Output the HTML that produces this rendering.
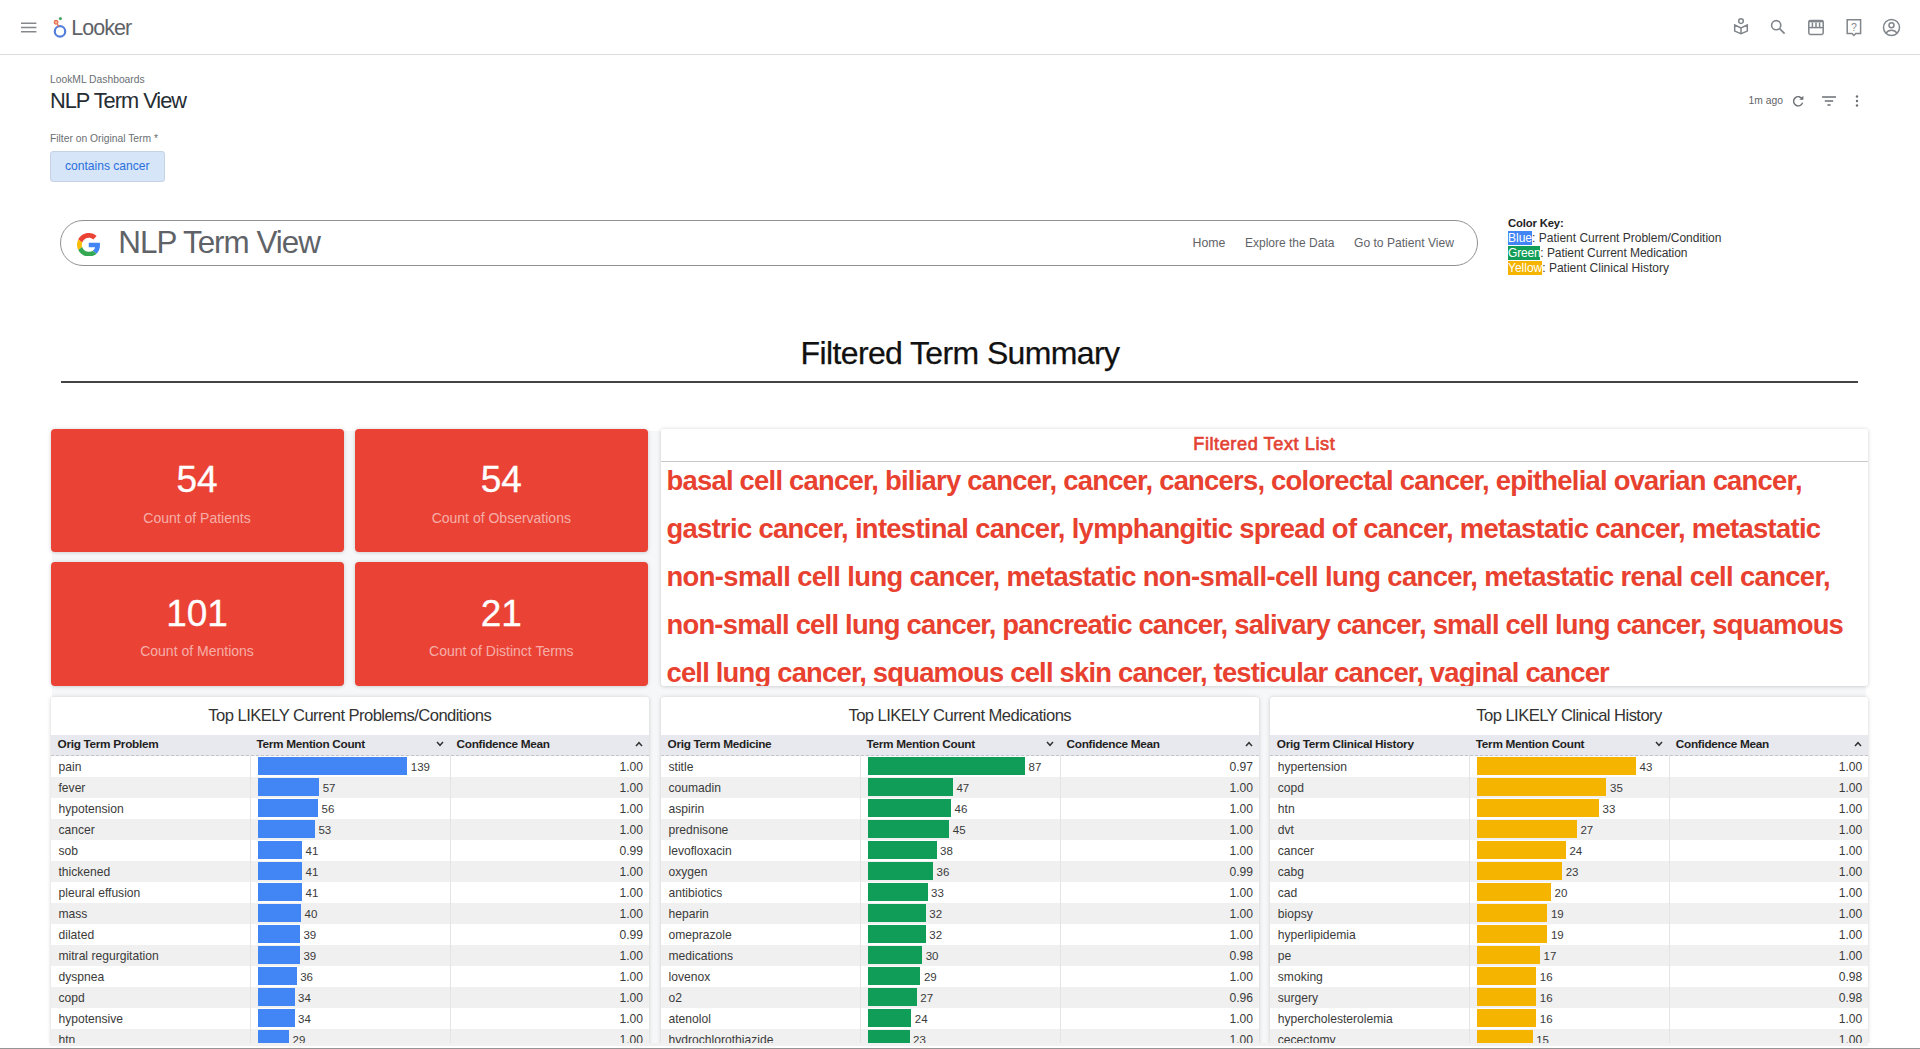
<!DOCTYPE html>
<html><head><meta charset="utf-8"><title>NLP Term View</title>
<style>
*{box-sizing:border-box;margin:0;padding:0}
html,body{width:1920px;height:1049px;overflow:hidden;background:#fff}
body{position:relative;font-family:"Liberation Sans",sans-serif;color:#333}
.abs{position:absolute;white-space:nowrap}
#hdr{position:absolute;left:0;top:0;width:1920px;height:55px;border-bottom:1px solid #dadce0;background:#fff}
.panel{position:absolute;background:#fff;border-radius:3px;box-shadow:0 0 4px rgba(60,64,67,.16),0 1px 3px rgba(60,64,67,.10)}
.tile{position:absolute;background:#ea4335;border-radius:4px;box-shadow:0 0 4px rgba(60,64,67,.16),0 1px 3px rgba(60,64,67,.10);color:#fff;text-align:center}
.tile .num{position:absolute;left:0;right:0;top:31.3px;font-size:37px;line-height:40px;-webkit-text-stroke:.3px #fff}
.tile .lbl{position:absolute;left:0;right:0;top:80px;font-size:14px;line-height:18px;color:rgba(255,255,255,.58)}
.tbl{top:697px;width:598.5px;height:360px;overflow:hidden}
.ttl{position:absolute;left:0;right:0;top:9px;text-align:center;font-size:16.6px;letter-spacing:-.55px;line-height:20px;color:#333}
.thead{position:absolute;left:0;right:0;top:37.5px;height:21px;background:#e8e9ee;border-bottom:1px dashed #c4c4c8}
.th{position:absolute;top:-1px;height:20px;line-height:20px;font-size:11.8px;letter-spacing:-.3px;font-weight:bold;color:#1f1f1f;padding-left:7px}
.c1{left:0;width:199px}.c2{left:199px;width:200px}.c3{left:399px;width:199.5px}
.chev{position:absolute;right:6px;top:7px;width:8px;height:6px}
.row{position:relative;height:21px;width:100%}
.row:first-of-type{margin-top:0}
.thead + .row{margin-top:58.5px}
.row.alt{background:#f0f0f0}
.td{position:absolute;top:0;height:21px;line-height:22.6px;font-size:12.1px;color:#3a3a3a}
.td.c1{padding-left:8px}
.td.c2{border-left:1px solid #e4e4e4}
.td.c3{border-left:1px solid #e4e4e4;text-align:right;padding-right:6px}
.bar{position:absolute;left:7.5px;top:1.8px;height:17.3px}
.bv{position:absolute;top:0;font-size:11.5px;line-height:22.6px}
</style></head><body>
<div id="hdr">
 <svg class="abs" style="left:21px;top:21px" width="16" height="13" viewBox="0 0 16 13"><path d="M0 2.3h15.4M0 6.5h15.4M0 10.7h15.4" stroke="#85898d" stroke-width="1.5" fill="none"/></svg>
 <svg class="abs" style="left:51px;top:16px" width="18" height="24" viewBox="0 0 18 24"><circle cx="9" cy="15.4" r="5.2" fill="none" stroke="#547fdc" stroke-width="2.2"/><circle cx="5.1" cy="6.3" r="1.8" fill="#f6c5b3" stroke="#e8704f" stroke-width="1.3"/><circle cx="9.4" cy="2.6" r="1.6" fill="#46a864"/><path d="M6.3 8.3 L7.8 10.4" stroke="#e8704f" stroke-width="1.5"/></svg>
 <div class="abs" style="left:71.3px;top:16px;font-size:21.5px;line-height:24px;color:#5f6368;letter-spacing:-1px">Looker</div>
</div>
<div class="abs" style="left:50px;top:73.5px;font-size:10.3px;line-height:12px;color:#6b6f74">LookML Dashboards</div>
<div class="abs" id="dtitle" style="left:50px;top:87.8px;font-size:21.8px;line-height:26px;color:#262d33;letter-spacing:-1px">NLP Term View</div>
<div class="abs" style="left:50px;top:133px;font-size:10.3px;line-height:12px;color:#6b6f74">Filter on Original Term *</div>
<div class="abs" style="left:50px;top:151px;width:114.5px;height:30.5px;border-radius:3px;background:#d6e5f8;border:1px solid #c6d3e6;color:#2a6fdb;font-size:12.1px;line-height:28px;text-align:center">contains cancer</div>


<!-- top-right icons -->
<svg class="abs" style="left:1732px;top:17px" width="18" height="20" viewBox="0 0 18 20"><g fill="none" stroke="#80868b" stroke-width="1.5"><circle cx="9" cy="4.1" r="2.3"/><path d="M2.7 8v6.1L9 16.7l6.3-2.6V8L9 10.9z"/><path d="M9 10.9v5.8"/></g></svg>
<svg class="abs" style="left:1769px;top:18px" width="18" height="18" viewBox="0 0 18 18"><g fill="none" stroke="#80868b" stroke-width="1.6"><circle cx="7.2" cy="7.2" r="4.6"/><path d="M10.6 10.6l5 5"/></g></svg>
<svg class="abs" style="left:1807px;top:18px" width="18" height="18" viewBox="0 0 18 18"><g fill="none" stroke="#80868b" stroke-width="1.5"><rect x="1.8" y="2.4" width="14.4" height="14" rx="1.6"/><path d="M1.8 9.6h14.4"/><path d="M5.4 4.6v5M9 4.6v5M12.6 4.6v5"/><path d="M1.8 3.6h14.4"/></g></svg>
<svg class="abs" style="left:1845px;top:18px" width="18" height="20" viewBox="0 0 18 20"><g fill="none" stroke="#80868b" stroke-width="1.5"><path d="M2.2 1.7h13.4v13.8H10.8l-1.9 2-1.9-2H2.2z"/></g><text x="9" y="12.6" font-family="Liberation Sans, sans-serif" font-size="10.5" text-anchor="middle" fill="#80868b">?</text></svg>
<svg class="abs" style="left:1882px;top:18px" width="19" height="19" viewBox="0 0 19 19"><g fill="none" stroke="#80868b" stroke-width="1.5"><circle cx="9.5" cy="9.5" r="8"/><circle cx="9.5" cy="7.3" r="2.5"/><path d="M4 15.2c1.3-2.2 3.3-3 5.5-3s4.2.8 5.5 3"/></g></svg>
<!-- refresh / filter / kebab -->
<svg class="abs" style="left:1791px;top:94px" width="14" height="14" viewBox="0 0 14 14"><path d="M11.3 5.2A4.6 4.6 0 1 0 11.6 8.6" fill="none" stroke="#6b7075" stroke-width="1.4"/><path d="M12.4 1.8v4h-4z" fill="#6b7075"/></svg>
<svg class="abs" style="left:1821px;top:95px" width="16" height="12" viewBox="0 0 16 12"><path d="M1 2h14M3.8 6h8.4M6.4 10h3.2" stroke="#6b7075" stroke-width="1.4" fill="none"/></svg>
<svg class="abs" style="left:1854px;top:94px" width="6" height="14" viewBox="0 0 6 14"><circle cx="3" cy="2.5" r="1.2" fill="#6b7075"/><circle cx="3" cy="7" r="1.2" fill="#6b7075"/><circle cx="3" cy="11.5" r="1.2" fill="#6b7075"/></svg>
<div class="abs" style="left:1748.6px;top:95px;font-size:10.3px;line-height:12px;color:#5f6368">1m ago</div>

<div class="abs" style="left:60.3px;top:220.2px;width:1417.4px;height:46px;border:1.8px solid #919191;border-radius:23px"></div>
<svg class="abs" style="left:76.8px;top:232.6px" width="23.5" height="23.5" viewBox="0 0 48 48"><path fill="#EA4335" d="M24 9.5c3.54 0 6.71 1.22 9.21 3.6l6.85-6.85C35.9 2.38 30.47 0 24 0 14.62 0 6.51 5.38 2.56 13.22l7.98 6.19C12.43 13.72 17.74 9.5 24 9.5z"/><path fill="#4285F4" d="M46.98 24.55c0-1.57-.15-3.09-.38-4.55H24v9.02h12.94c-.58 2.96-2.26 5.48-4.78 7.18l7.73 6c4.51-4.18 7.09-10.36 7.09-17.65z"/><path fill="#FBBC05" d="M10.53 28.59c-.48-1.45-.76-2.99-.76-4.59s.27-3.14.76-4.59l-7.98-6.19C.92 16.46 0 20.12 0 24c0 3.88.92 7.54 2.56 10.78l7.97-6.19z"/><path fill="#34A853" d="M24 48c6.48 0 11.93-2.13 15.89-5.81l-7.73-6c-2.15 1.45-4.92 2.3-8.16 2.3-6.26 0-11.57-4.22-13.47-9.91l-7.98 6.19C6.51 42.62 14.62 48 24 48z"/></svg>
<div class="abs" style="left:118.3px;top:225.1px;font-size:31.4px;line-height:36px;color:#5f6368;letter-spacing:-1px">NLP Term View</div>
<div class="abs" style="left:1192.6px;top:236px;font-size:12.3px;line-height:14px;color:#5f6368">Home</div>
<div class="abs" style="left:1245px;top:236px;font-size:12px;line-height:14px;color:#5f6368">Explore the Data</div>
<div class="abs" style="left:1354px;top:236px;font-size:12.1px;line-height:14px;color:#5f6368">Go to Patient View</div>

<div class="abs" style="left:1508px;top:216px;font-size:12px;line-height:15px;color:#333"><b style="color:#222;font-size:11.3px;letter-spacing:-.15px">Color Key:</b><br><span style="background:#4285f4;color:#fff">Blue</span>: Patient Current Problem/Condition<br><span style="background:#0f9d58;color:#fff;letter-spacing:-.2px">Green</span><span style="letter-spacing:-.06px">: Patient Current Medication</span><br><span style="background:#f4b400;color:#fff">Yellow</span>: Patient Clinical History</div>

<div class="abs" style="left:0;width:1920px;top:334.3px;text-align:center;font-size:32px;letter-spacing:-.62px;line-height:38px;color:#111;-webkit-text-stroke:.25px #111">Filtered Term Summary</div>
<div class="abs" style="left:60.5px;top:381.3px;width:1797.5px;height:2px;background:#444"></div>

<div class="abs" style="left:52px;top:431px;width:1814px;height:620px;background:#f6f7f8"></div>
<div class="tile" style="left:50.5px;top:428.5px;width:293px;height:123.3px"><div class="num">54</div><div class="lbl">Count of Patients</div></div>
<div class="tile" style="left:354.6px;top:428.5px;width:293.4px;height:123.3px"><div class="num">54</div><div class="lbl">Count of Observations</div></div>
<div class="tile" style="left:50.5px;top:562.4px;width:293px;height:123.6px"><div class="num">101</div><div class="lbl">Count of Mentions</div></div>
<div class="tile" style="left:354.6px;top:562.4px;width:293.4px;height:123.6px"><div class="num">21</div><div class="lbl">Count of Distinct Terms</div></div>

<div class="panel" style="left:660.5px;top:429px;width:1207.5px;height:257px;overflow:hidden">
 <div class="abs" style="left:0;right:0;top:4px;text-align:center;font-size:18.2px;letter-spacing:.55px;line-height:22px;color:#e34234;-webkit-text-stroke:.65px #e34234">Filtered Text List</div>
 <div class="abs" style="left:0;right:0;top:31.5px;height:1px;background:#c9c9c9"></div>
 <div class="abs" id="txt" style="left:6px;top:28.3px;font-size:27.4px;line-height:48px;font-weight:bold;color:#e8412f"><span style="letter-spacing:-0.76px">basal cell cancer, biliary cancer, cancer, cancers, colorectal cancer, epithelial ovarian cancer,</span><br><span style="letter-spacing:-0.69px">gastric cancer, intestinal cancer, lymphangitic spread of cancer, metastatic cancer, metastatic</span><br><span style="letter-spacing:-0.63px">non-small cell lung cancer, metastatic non-small-cell lung cancer, metastatic renal cell cancer,</span><br><span style="letter-spacing:-0.78px">non-small cell lung cancer, pancreatic cancer, salivary cancer, small cell lung cancer, squamous</span><br><span style="letter-spacing:-0.8px">cell lung cancer, squamous cell skin cancer, testicular cancer, vaginal cancer</span></div>
</div>

<div class="panel tbl" style="left:50.5px">
<div class="ttl">Top LIKELY Current Problems/Conditions</div>
<div class="thead"><div class="th c1">Orig Term Problem</div><div class="th c2">Term Mention Count<svg class="chev" viewBox="0 0 8 6"><path d="M1 1 L4 4.3 L7 1" fill="none" stroke="#333" stroke-width="1.5"/></svg></div><div class="th c3">Confidence Mean<svg class="chev" viewBox="0 0 8 6"><path d="M1 5 L4 1.7 L7 5" fill="none" stroke="#333" stroke-width="1.5"/></svg></div></div>
<div class="row"><div class="td c1">pain</div><div class="td c2"><span class="bar" style="width:149.3px;background:#4285f4"></span><span class="bv" style="left:160.3px">139</span></div><div class="td c3">1.00</div></div>
<div class="row alt"><div class="td c1">fever</div><div class="td c2"><span class="bar" style="width:61.2px;background:#4285f4"></span><span class="bv" style="left:72.2px">57</span></div><div class="td c3">1.00</div></div>
<div class="row"><div class="td c1">hypotension</div><div class="td c2"><span class="bar" style="width:60.1px;background:#4285f4"></span><span class="bv" style="left:71.1px">56</span></div><div class="td c3">1.00</div></div>
<div class="row alt"><div class="td c1">cancer</div><div class="td c2"><span class="bar" style="width:56.9px;background:#4285f4"></span><span class="bv" style="left:67.9px">53</span></div><div class="td c3">1.00</div></div>
<div class="row"><div class="td c1">sob</div><div class="td c2"><span class="bar" style="width:44.0px;background:#4285f4"></span><span class="bv" style="left:55.0px">41</span></div><div class="td c3">0.99</div></div>
<div class="row alt"><div class="td c1">thickened</div><div class="td c2"><span class="bar" style="width:44.0px;background:#4285f4"></span><span class="bv" style="left:55.0px">41</span></div><div class="td c3">1.00</div></div>
<div class="row"><div class="td c1">pleural effusion</div><div class="td c2"><span class="bar" style="width:44.0px;background:#4285f4"></span><span class="bv" style="left:55.0px">41</span></div><div class="td c3">1.00</div></div>
<div class="row alt"><div class="td c1">mass</div><div class="td c2"><span class="bar" style="width:43.0px;background:#4285f4"></span><span class="bv" style="left:54.0px">40</span></div><div class="td c3">1.00</div></div>
<div class="row"><div class="td c1">dilated</div><div class="td c2"><span class="bar" style="width:41.9px;background:#4285f4"></span><span class="bv" style="left:52.9px">39</span></div><div class="td c3">0.99</div></div>
<div class="row alt"><div class="td c1">mitral regurgitation</div><div class="td c2"><span class="bar" style="width:41.9px;background:#4285f4"></span><span class="bv" style="left:52.9px">39</span></div><div class="td c3">1.00</div></div>
<div class="row"><div class="td c1">dyspnea</div><div class="td c2"><span class="bar" style="width:38.7px;background:#4285f4"></span><span class="bv" style="left:49.7px">36</span></div><div class="td c3">1.00</div></div>
<div class="row alt"><div class="td c1">copd</div><div class="td c2"><span class="bar" style="width:36.5px;background:#4285f4"></span><span class="bv" style="left:47.5px">34</span></div><div class="td c3">1.00</div></div>
<div class="row"><div class="td c1">hypotensive</div><div class="td c2"><span class="bar" style="width:36.5px;background:#4285f4"></span><span class="bv" style="left:47.5px">34</span></div><div class="td c3">1.00</div></div>
<div class="row alt"><div class="td c1">htn</div><div class="td c2"><span class="bar" style="width:31.1px;background:#4285f4"></span><span class="bv" style="left:42.1px">29</span></div><div class="td c3">1.00</div></div>
</div>
<div class="panel tbl" style="left:660.5px">
<div class="ttl">Top LIKELY Current Medications</div>
<div class="thead"><div class="th c1">Orig Term Medicine</div><div class="th c2">Term Mention Count<svg class="chev" viewBox="0 0 8 6"><path d="M1 1 L4 4.3 L7 1" fill="none" stroke="#333" stroke-width="1.5"/></svg></div><div class="th c3">Confidence Mean<svg class="chev" viewBox="0 0 8 6"><path d="M1 5 L4 1.7 L7 5" fill="none" stroke="#333" stroke-width="1.5"/></svg></div></div>
<div class="row"><div class="td c1">stitle</div><div class="td c2"><span class="bar" style="width:157.1px;background:#0f9d58"></span><span class="bv" style="left:168.1px">87</span></div><div class="td c3">0.97</div></div>
<div class="row alt"><div class="td c1">coumadin</div><div class="td c2"><span class="bar" style="width:84.9px;background:#0f9d58"></span><span class="bv" style="left:95.9px">47</span></div><div class="td c3">1.00</div></div>
<div class="row"><div class="td c1">aspirin</div><div class="td c2"><span class="bar" style="width:83.1px;background:#0f9d58"></span><span class="bv" style="left:94.1px">46</span></div><div class="td c3">1.00</div></div>
<div class="row alt"><div class="td c1">prednisone</div><div class="td c2"><span class="bar" style="width:81.3px;background:#0f9d58"></span><span class="bv" style="left:92.3px">45</span></div><div class="td c3">1.00</div></div>
<div class="row"><div class="td c1">levofloxacin</div><div class="td c2"><span class="bar" style="width:68.6px;background:#0f9d58"></span><span class="bv" style="left:79.6px">38</span></div><div class="td c3">1.00</div></div>
<div class="row alt"><div class="td c1">oxygen</div><div class="td c2"><span class="bar" style="width:65.0px;background:#0f9d58"></span><span class="bv" style="left:76.0px">36</span></div><div class="td c3">0.99</div></div>
<div class="row"><div class="td c1">antibiotics</div><div class="td c2"><span class="bar" style="width:59.6px;background:#0f9d58"></span><span class="bv" style="left:70.6px">33</span></div><div class="td c3">1.00</div></div>
<div class="row alt"><div class="td c1">heparin</div><div class="td c2"><span class="bar" style="width:57.8px;background:#0f9d58"></span><span class="bv" style="left:68.8px">32</span></div><div class="td c3">1.00</div></div>
<div class="row"><div class="td c1">omeprazole</div><div class="td c2"><span class="bar" style="width:57.8px;background:#0f9d58"></span><span class="bv" style="left:68.8px">32</span></div><div class="td c3">1.00</div></div>
<div class="row alt"><div class="td c1">medications</div><div class="td c2"><span class="bar" style="width:54.2px;background:#0f9d58"></span><span class="bv" style="left:65.2px">30</span></div><div class="td c3">0.98</div></div>
<div class="row"><div class="td c1">lovenox</div><div class="td c2"><span class="bar" style="width:52.4px;background:#0f9d58"></span><span class="bv" style="left:63.4px">29</span></div><div class="td c3">1.00</div></div>
<div class="row alt"><div class="td c1">o2</div><div class="td c2"><span class="bar" style="width:48.8px;background:#0f9d58"></span><span class="bv" style="left:59.8px">27</span></div><div class="td c3">0.96</div></div>
<div class="row"><div class="td c1">atenolol</div><div class="td c2"><span class="bar" style="width:43.3px;background:#0f9d58"></span><span class="bv" style="left:54.3px">24</span></div><div class="td c3">1.00</div></div>
<div class="row alt"><div class="td c1">hydrochlorothiazide</div><div class="td c2"><span class="bar" style="width:41.5px;background:#0f9d58"></span><span class="bv" style="left:52.5px">23</span></div><div class="td c3">1.00</div></div>
</div>
<div class="panel tbl" style="left:1269.8px">
<div class="ttl">Top LIKELY Clinical History</div>
<div class="thead"><div class="th c1">Orig Term Clinical History</div><div class="th c2">Term Mention Count<svg class="chev" viewBox="0 0 8 6"><path d="M1 1 L4 4.3 L7 1" fill="none" stroke="#333" stroke-width="1.5"/></svg></div><div class="th c3">Confidence Mean<svg class="chev" viewBox="0 0 8 6"><path d="M1 5 L4 1.7 L7 5" fill="none" stroke="#333" stroke-width="1.5"/></svg></div></div>
<div class="row"><div class="td c1">hypertension</div><div class="td c2"><span class="bar" style="width:158.7px;background:#f4b400"></span><span class="bv" style="left:169.7px">43</span></div><div class="td c3">1.00</div></div>
<div class="row alt"><div class="td c1">copd</div><div class="td c2"><span class="bar" style="width:129.2px;background:#f4b400"></span><span class="bv" style="left:140.2px">35</span></div><div class="td c3">1.00</div></div>
<div class="row"><div class="td c1">htn</div><div class="td c2"><span class="bar" style="width:121.8px;background:#f4b400"></span><span class="bv" style="left:132.8px">33</span></div><div class="td c3">1.00</div></div>
<div class="row alt"><div class="td c1">dvt</div><div class="td c2"><span class="bar" style="width:99.6px;background:#f4b400"></span><span class="bv" style="left:110.6px">27</span></div><div class="td c3">1.00</div></div>
<div class="row"><div class="td c1">cancer</div><div class="td c2"><span class="bar" style="width:88.6px;background:#f4b400"></span><span class="bv" style="left:99.6px">24</span></div><div class="td c3">1.00</div></div>
<div class="row alt"><div class="td c1">cabg</div><div class="td c2"><span class="bar" style="width:84.9px;background:#f4b400"></span><span class="bv" style="left:95.9px">23</span></div><div class="td c3">1.00</div></div>
<div class="row"><div class="td c1">cad</div><div class="td c2"><span class="bar" style="width:73.8px;background:#f4b400"></span><span class="bv" style="left:84.8px">20</span></div><div class="td c3">1.00</div></div>
<div class="row alt"><div class="td c1">biopsy</div><div class="td c2"><span class="bar" style="width:70.1px;background:#f4b400"></span><span class="bv" style="left:81.1px">19</span></div><div class="td c3">1.00</div></div>
<div class="row"><div class="td c1">hyperlipidemia</div><div class="td c2"><span class="bar" style="width:70.1px;background:#f4b400"></span><span class="bv" style="left:81.1px">19</span></div><div class="td c3">1.00</div></div>
<div class="row alt"><div class="td c1">pe</div><div class="td c2"><span class="bar" style="width:62.7px;background:#f4b400"></span><span class="bv" style="left:73.7px">17</span></div><div class="td c3">1.00</div></div>
<div class="row"><div class="td c1">smoking</div><div class="td c2"><span class="bar" style="width:59.0px;background:#f4b400"></span><span class="bv" style="left:70.0px">16</span></div><div class="td c3">0.98</div></div>
<div class="row alt"><div class="td c1">surgery</div><div class="td c2"><span class="bar" style="width:59.0px;background:#f4b400"></span><span class="bv" style="left:70.0px">16</span></div><div class="td c3">0.98</div></div>
<div class="row"><div class="td c1">hypercholesterolemia</div><div class="td c2"><span class="bar" style="width:59.0px;background:#f4b400"></span><span class="bv" style="left:70.0px">16</span></div><div class="td c3">1.00</div></div>
<div class="row alt"><div class="td c1">cecectomy</div><div class="td c2"><span class="bar" style="width:55.4px;background:#f4b400"></span><span class="bv" style="left:66.4px">15</span></div><div class="td c3">1.00</div></div>
</div>

<div class="abs" style="left:0;top:1043.4px;width:1920px;height:6px;background:#fff"></div>
<div class="abs" style="left:50px;top:1043.4px;width:1818px;height:2.2px;background:#f1f1f2"></div>
<div class="abs" style="left:0;top:1047.7px;width:1920px;height:1.5px;background:#959595"></div>
</body></html>
